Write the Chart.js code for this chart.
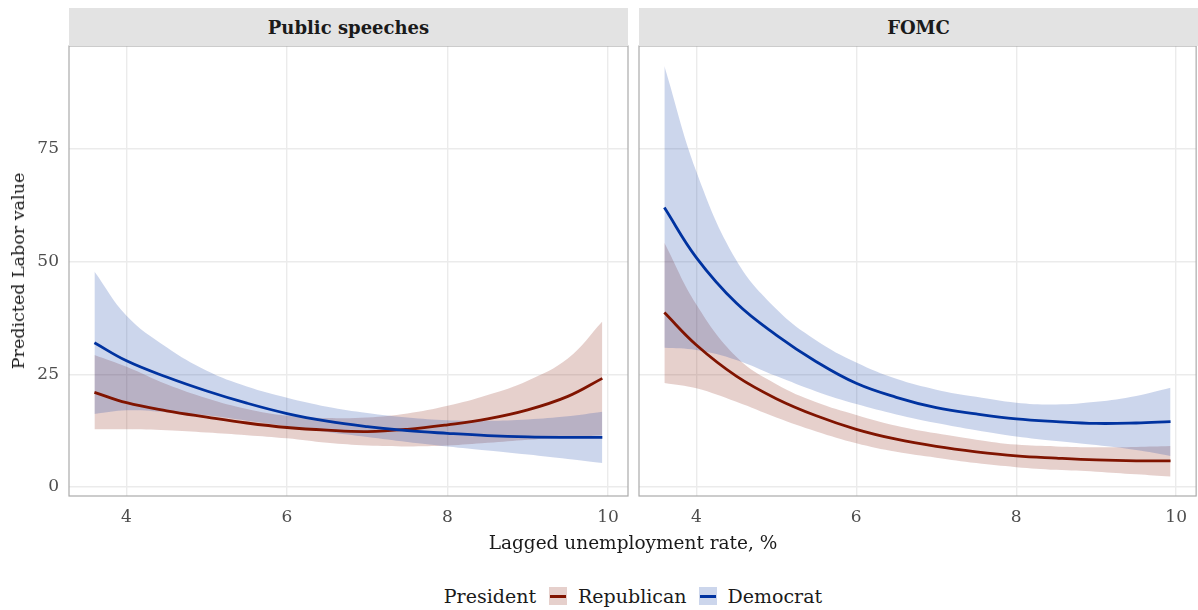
<!DOCTYPE html>
<html>
<head>
<meta charset="utf-8">
<script src="https://cdn.jsdelivr.net/npm/chart.js@4.4.1/dist/chart.umd.min.js"></script>
<style>
  html, body { margin:0; padding:0; background:#fff; }
  body { width:1198px; height:610px; position:relative; overflow:hidden; font-family:'DejaVu Serif', serif; color:#1a1a1a; }
  canvas { position:absolute; top:0; }
  .strip { position:absolute; top:8px; height:38px; background:#e3e3e3; color:#1a1a1a; font-weight:bold; font-size:18px;
           display:flex; align-items:center; justify-content:center; }
  .ytitle { position:absolute; left:18px; top:271px; transform:translate(-50%,-50%) rotate(-90deg); white-space:nowrap; font-size:17.5px; }
  .xtitle { position:absolute; left:633px; top:542px; transform:translate(-50%,-50%); white-space:nowrap; font-size:18.5px; }
  .legend { position:absolute; left:0; width:1266px; top:585px; height:22px; display:flex; align-items:center; justify-content:center; font-size:19px; white-space:nowrap; }
  .key { width:18px; height:18px; position:relative; margin:0 11px 0 13px; }
  .key i { position:absolute; left:1px; right:1px; top:7.5px; height:3px; }
</style>
</head>
<body>
<canvas id="c1" width="640" height="540" style="left:0px"></canvas>
<canvas id="c2" width="560" height="540" style="left:638px"></canvas>
<div class="strip" style="left:69px;width:559px">Public speeches</div>
<div class="strip" style="left:639px;width:559px">FOMC</div>
<div class="ytitle">Predicted Labor value</div>
<div class="xtitle">Lagged unemployment rate, %</div>
<div class="legend">
  <span>President</span>
  <span class="key" style="background:rgba(128,20,0,0.2)"><i style="background:#801400"></i></span>
  <span>Republican</span>
  <span class="key" style="background:rgba(0,51,160,0.2);margin-left:12px"><i style="background:#0033a0"></i></span>
  <span>Democrat</span>
</div>
<script>
// ---- data ----
const panels = ['Public speeches', 'FOMC'];
const xTicks = [4, 6, 8, 10];
const yTicks = [0, 25, 50, 75];
const xRange = [3.283, 10.25];
const yRange = [-2.0, 97.85];

const unemp = [3.6, 4, 4.5, 5, 5.5, 6, 6.5, 7, 7.5, 8, 8.5, 9, 9.5, 9.93];

// Public speeches
const speechRepFit = [21.0, 18.7, 16.9, 15.5, 14.2, 13.2, 12.6, 12.3, 12.8, 13.8, 15.1, 17.1, 20.1, 24.1];
const speechRepHi  = [29.3, 26.7, 22.8, 19.7, 17.3, 15.8, 15.3, 15.4, 16.3, 18.0, 20.4, 23.6, 28.5, 36.7];
const speechRepLo  = [12.8, 12.8, 12.6, 12.1, 11.5, 10.8, 9.8, 9.2, 9.0, 9.2, 9.8, 10.5, 11.0, 11.5];
const speechDemFit = [32.0, 28.0, 24.4, 21.3, 18.6, 16.3, 14.6, 13.4, 12.5, 11.9, 11.4, 11.1, 11.0, 11.0];
const speechDemHi  = [47.8, 38.0, 31.0, 25.8, 22.3, 19.8, 17.8, 16.4, 15.4, 14.8, 14.7, 15.0, 15.7, 16.7];
const speechDemLo  = [16.2, 17.0, 16.6, 15.9, 14.7, 13.5, 12.2, 11.1, 10.0, 9.0, 8.1, 7.2, 6.2, 5.3];

// FOMC
const fomcRepFit = [38.7, 31.5, 24.6, 19.6, 15.8, 12.8, 10.6, 9.0, 7.8, 6.9, 6.4, 6.0, 5.8, 5.8];
const fomcRepHi  = [54.2, 40.5, 28.9, 22.8, 18.8, 16.0, 13.6, 11.9, 10.5, 9.4, 9.0, 8.8, 8.9, 9.1];
const fomcRepLo  = [23.1, 21.9, 18.9, 15.4, 12.3, 9.7, 7.8, 6.5, 5.3, 4.4, 3.8, 3.4, 2.8, 2.3];
const fomcDemFit = [62.0, 50.9, 40.8, 33.7, 27.8, 23.0, 19.9, 17.6, 16.2, 15.1, 14.5, 14.1, 14.2, 14.5];
const fomcDemHi  = [93.4, 70.0, 50.3, 39.5, 32.5, 27.6, 24.0, 21.6, 20.0, 18.7, 18.3, 18.9, 20.2, 22.0];
const fomcDemLo  = [30.9, 30.4, 28.2, 24.6, 21.2, 18.4, 16.1, 14.2, 12.6, 11.2, 10.2, 9.3, 8.2, 6.9];

// ---- styling ----
const REP = '#801400', DEM = '#0033a0';
const REP_FILL = 'rgba(128,20,0,0.2)', DEM_FILL = 'rgba(0,51,160,0.2)';
const FONT = 'DejaVu Serif';

const pts = ys => unemp.map((x, i) => ({x, y: ys[i]}));

const panelBorder = {
  id: 'panelBorder',
  afterDraw(chart) {
    const {ctx, chartArea: a} = chart;
    ctx.save();
    ctx.strokeStyle = '#ababab';
    ctx.lineWidth = 1.2;
    ctx.strokeRect(a.left, a.top, a.right - a.left, a.bottom - a.top);
    ctx.restore();
  }
};

function makePanel(id, s, showY) {
  const base = {pointRadius: 0, borderWidth: 0, tension: 0.4};
  const datasets = [
    {...base, label: 'repHi', data: pts(s.repHi), fill: '+1', backgroundColor: REP_FILL, order: 4},
    {...base, label: 'repLo', data: pts(s.repLo), fill: false, order: 4},
    {...base, label: 'demHi', data: pts(s.demHi), fill: '+1', backgroundColor: DEM_FILL, order: 3},
    {...base, label: 'demLo', data: pts(s.demLo), fill: false, order: 3},
    {...base, label: 'Republican', data: pts(s.repFit), borderColor: REP, borderWidth: 2.8, fill: false, order: 1},
    {...base, label: 'Democrat', data: pts(s.demFit), borderColor: DEM, borderWidth: 2.8, fill: false, order: 0},
  ];
  return new Chart(document.getElementById(id), {
    type: 'line',
    data: {datasets},
    plugins: [panelBorder],
    options: {
      responsive: false, animation: false, devicePixelRatio: 1,
      layout: {padding: {top: 46, right: showY ? 12 : 1, left: 0, bottom: 0}},
      plugins: {legend: {display: false}, tooltip: {enabled: false}},
      scales: {
        x: {
          type: 'linear', min: xRange[0], max: xRange[1],
          afterBuildTicks: sc => { sc.ticks = xTicks.map(v => ({value: v})); },
          afterFit: sc => { sc.height = 44; },
          grid: {color: '#ebebeb', lineWidth: 1.4, drawTicks: false},
          border: {display: false},
          ticks: {padding: 11, color: '#4d4d4d', font: {family: FONT, size: 17}, maxRotation: 0}
        },
        y: {
          type: 'linear', min: yRange[0], max: yRange[1],
          afterBuildTicks: sc => { sc.ticks = yTicks.map(v => ({value: v})); },
          afterFit: sc => { sc.width = showY ? 69 : 1; },
          grid: {color: '#ebebeb', lineWidth: 1.4, drawTicks: false},
          border: {display: false},
          ticks: {display: showY, padding: 10, color: '#4d4d4d', font: {family: FONT, size: 17}}
        }
      }
    }
  });
}

makePanel('c1', {repFit: speechRepFit, repHi: speechRepHi, repLo: speechRepLo,
                 demFit: speechDemFit, demHi: speechDemHi, demLo: speechDemLo}, true);
makePanel('c2', {repFit: fomcRepFit, repHi: fomcRepHi, repLo: fomcRepLo,
                 demFit: fomcDemFit, demHi: fomcDemHi, demLo: fomcDemLo}, false);
</script>
</body>
</html>
